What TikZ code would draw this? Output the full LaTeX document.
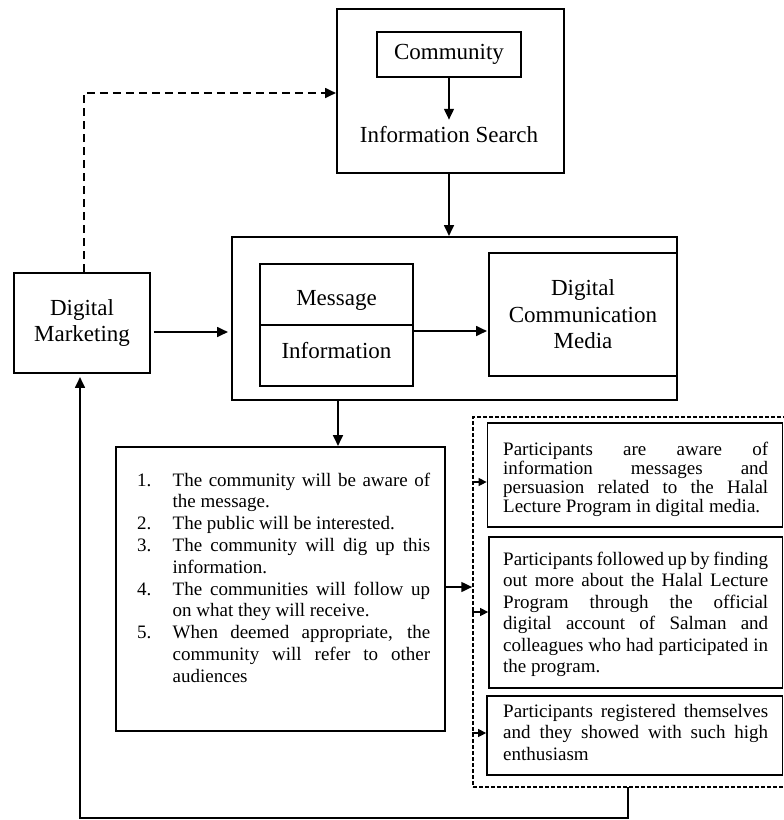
\documentclass[tikz,border=0pt]{standalone}
\usepackage{fontspec}
\setmainfont{Liberation Serif}
\usetikzlibrary{arrows.meta,calc}
\newcommand{\jbox}[3]{\vtop{\hsize=#1\fontsize{19}{#2}\selectfont\parindent=0pt\tolerance=10000\hyphenpenalty=10000\noindent #3\par}}
\newcommand{\litem}[1]{\noindent\llap{\makebox[35.5pt][l]{#1}}}
\begin{document}
\begin{tikzpicture}[x=1pt,y=-1pt,
  box/.style={draw, line width=1.7pt, inner sep=0pt},
  lbl/.style={font=\fontsize{23}{26.5}\selectfont, align=center},
  arr/.style={line width=2.6pt, -{Triangle[length=11pt,width=9.5pt]}},
  sarr/.style={line width=1.2pt, -{Triangle[length=8pt,width=8pt]}},
  dline/.style={line width=2.6pt, dash pattern=on 8pt off 5pt, -{Triangle[length=11pt,width=9.5pt]}},
  dbox/.style={draw, line width=1.3pt, dash pattern=on 4pt off 2pt, inner sep=0pt},
  jtext/.style={anchor=base west, inner sep=0pt}
]
\useasboundingbox (0,0) rectangle (784,820);

% boxes
\node[box, minimum width=227pt, minimum height=164pt] (top) at (450.5,91) {};
\node[box, lbl, minimum width=144pt, minimum height=45pt] (comm) at (449,54.5) {Community};
\node[lbl, anchor=base, inner sep=0pt] (isearch) at (449,142) {Information Search};
\node[box, minimum width=445pt, minimum height=163pt] (big) at (454.5,318.5) {};
\node[box, minimum width=153pt, minimum height=122pt] (mi) at (336.5,325) {};
\node[lbl, anchor=base, inner sep=0pt] (msg) at (336.5,305) {Message};
\node[lbl, anchor=base, inner sep=0pt] (info) at (336.5,358) {Information};
\node[box, lbl, minimum width=188pt, minimum height=123pt] (dcm) at (583,314.5) {Digital\\Communication\\Media};
\node[box, lbl, minimum width=136pt, minimum height=100pt] (dm) at (82,323) {Digital\\Marketing};
\node[box, minimum width=329pt, minimum height=284pt] (list) at (280.5,589) {};
\node[dbox, minimum width=317pt, minimum height=370pt] (outer) at (631.5,602) {};
\node[box, minimum width=295pt, minimum height=104pt] (b1) at (635,475) {};
\node[box, minimum width=293.5pt, minimum height=151pt] (b2) at (635.75,612.5) {};
\node[box, minimum width=295.5pt, minimum height=79pt] (b3) at (634.75,735.5) {};

\draw[line width=1.7pt] (mi.west) -- (mi.east);

% texts
\node[jtext] (ltext) at (137,486) {\vtop{\hsize=293pt\fontsize{19}{21.8}\selectfont\parindent=0pt\leftskip=35.5pt\tolerance=10000\hyphenpenalty=10000
\litem{1.}The community will be aware of\linebreak the message.\par
\litem{2.}The public will be interested.\par
\litem{3.}The community will dig up this\linebreak information.\par
\litem{4.}The communities will follow up\linebreak on what they will receive.\par
\litem{5.}When deemed appropriate, the\linebreak community will refer to other\linebreak audiences\par}};

\node[jtext] (t1) at (503,455) {\jbox{265pt}{19}{Participants are aware of\linebreak information messages and\linebreak persuasion related to the Halal\linebreak Lecture Program in digital media.}};
\node[jtext] (t2) at (503,565) {\jbox{265pt}{21.5}{Participants followed up by finding\linebreak out more about the Halal Lecture\linebreak Program through the official\linebreak digital account of Salman and\linebreak colleagues who had participated in\linebreak the program.}};
\node[jtext] (t3) at (503,717) {\jbox{265pt}{21.5}{Participants registered themselves\linebreak and they showed with such high\linebreak enthusiasm}};

% helper coordinates
\coordinate (yd) at (0,93);
\coordinate (ya) at (0,332);
\coordinate (yb) at (0,331);
\coordinate (xc) at (338,0);
\coordinate (y4) at (0,587);
\coordinate (y1) at (0,482);
\coordinate (y2) at (0,612);
\coordinate (y3) at (0,733);
\coordinate (fbstart) at (628,787);
\coordinate (fbcorner) at (80,818);

% connectors
\draw[arr] (comm.south) -- ++(0,42);
\draw[arr] (top.south -| comm.south) -- (comm.south |- big.north);
\draw[dline] ($(dm.north)+(2,0)$) -- ($(dm.north |- yd)+(2,0)$) -- (top.west |- yd);
\draw[arr] ($(dm.east |- ya)+(3,0)$) -- ($(big.west |- ya)+(-3,0)$);
\draw[arr] (mi.east |- yb) -- ($(dcm.west |- yb)+(-1,0)$);
\draw[arr] (big.south -| xc) -- (list.north -| xc);
\draw[arr] (list.east |- y4) -- (outer.west |- y4);
\draw[sarr] (outer.west |- y1) -- (b1.west |- y1);
\draw[sarr] (outer.west |- y2) -- (b2.west |- y2);
\draw[sarr] (outer.west |- y3) -- (b3.west |- y3);
\draw[arr] (fbstart) |- (fbcorner) -- ($(fbcorner |- dm.south)+(0,3)$);
\end{tikzpicture}
\end{document}
